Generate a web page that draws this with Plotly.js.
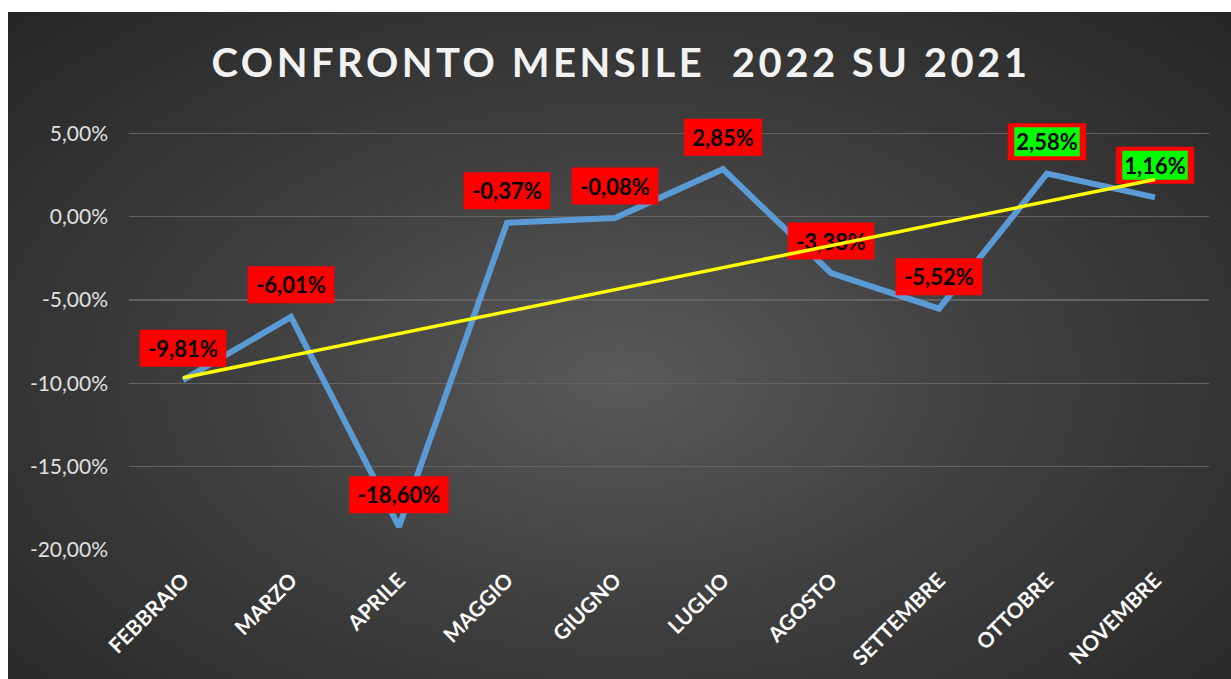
<!DOCTYPE html>
<html><head><meta charset="utf-8">
<script src="https://cdn.plot.ly/plotly-3.0.1.min.js"></script>
<style>
html,body{margin:0;padding:0;background:#fff;width:1231px;height:679px;overflow:hidden}
#bg{position:absolute;left:8px;top:12px;width:1223px;height:667px;background:radial-gradient(ellipse farthest-corner at 50% 55%, #5a5a5a 0%, #3f3f3f 45%, #262626 100%)}
#chart{position:absolute;left:0;top:0;width:1231px;height:679px}
.gtitle{letter-spacing:3.5px}
</style></head><body>
<div id="bg"></div><div id="chart"></div>
<script>
const months = ['FEBBRAIO','MARZO','APRILE','MAGGIO','GIUGNO','LUGLIO','AGOSTO','SETTEMBRE','OTTOBRE','NOVEMBRE'];
const changes = [-9.81,-6.01,-18.60,-0.37,-0.08,2.85,-3.38,-5.52,2.58,1.16];
const highlighted = ['OTTOBRE','NOVEMBRE'];
const yTickVals = [-20,-15,-10,-5,0,5];
const yTickText = ['-20,00%','-15,00%','-10,00%','-5,00%','0,00%','5,00%'];
const chartTitle = 'CONFRONTO MENSILE \u00a02022 SU 2021';

const W = 1231, H = 679;
const margin = {l:129, r:22, t:100, b:129};
const n = changes.length;
const xRange = [-0.5, n-0.5];
const yRange = [-20, 7];
const xPx = (W - margin.l - margin.r) / (xRange[1]-xRange[0]);
const yPx = (H - margin.t - margin.b) / (yRange[1]-yRange[0]);

const fmt = v => v.toFixed(2).replace('.', ',') + '%';
const labelFont = {family:'Lato, sans-serif', size:22, color:'#000000', weight:'bold'};
const ctx = document.createElement('canvas').getContext('2d');
ctx.font = 'bold 22px Lato';
const OFF = 32;

const shapes = [];
changes.forEach((v,i)=>{
  const txt = fmt(v);
  const w = ctx.measureText(txt).width;
  const hi = highlighted.includes(months[i]);
  const boxW = w + 17;
  const cy = v + OFF/yPx;
  const base = {type:'rect', layer:'above', xref:'x', yref:'y', line:{width:0}};
  const lbl = {text:txt, font:labelFont, textposition:'middle center', padding:0};
  shapes.push(Object.assign({}, base, {x0:i-boxW/2/xPx, x1:i+boxW/2/xPx, y0:cy-18.5/yPx, y1:cy+18.5/yPx, fillcolor:'#ff0000'}, hi ? {} : {label:lbl}));
  if(hi){
    const gw = w + 4;
    shapes.push(Object.assign({}, base, {x0:i-gw/2/xPx, x1:i+gw/2/xPx, y0:cy-14.5/yPx, y1:cy+14.5/yPx, fillcolor:'#00ff00', label:lbl}));
  }
});

// linear trend (least squares) from the series
const mx = (n-1)/2;
const my = changes.reduce((a,b)=>a+b,0)/n;
let sxy=0, sxx=0;
changes.forEach((v,i)=>{sxy+=(i-mx)*(v-my); sxx+=(i-mx)*(i-mx);});
const slope = sxy/sxx, icpt = my - slope*mx;
shapes.push({type:'line', layer:'above', xref:'x', yref:'y', x0:0, y0:icpt, x1:n-1, y1:icpt+slope*(n-1), line:{color:'#ffff00', width:3.5}});

const trace = {type:'scatter', mode:'lines', x:months, y:changes, line:{color:'#5b9bd5', width:6}, hoverinfo:'skip'};

const layout = {
  width:W, height:H,
  paper_bgcolor:'rgba(0,0,0,0)', plot_bgcolor:'rgba(0,0,0,0)',
  margin:margin,
  showlegend:false,
  title:{text:chartTitle, font:{family:'Lato, sans-serif', size:40, color:'#f2f2f2', weight:'bold'}, xref:'container', yref:'container', x:621/W, xanchor:'center', y:1-63/H, yanchor:'middle'},
  xaxis:{type:'category', range:xRange, showgrid:false, zeroline:false, showline:false, ticks:'', tickangle:-45, ticklabelstandoff:13,
    tickfont:{family:'Lato, sans-serif', size:21, color:'#ffffff', weight:'bold'}},
  yaxis:{range:yRange, tickvals:yTickVals, ticktext:yTickText, showgrid:true, gridcolor:'#636363', gridwidth:1.5, zeroline:false, showline:false, ticks:'', ticklabelstandoff:20,
    tickfont:{family:'Lato, sans-serif', size:21, color:'#e0e0e0'}},
  shapes:shapes
};
Plotly.newPlot('chart', [trace], layout, {staticPlot:true, displayModeBar:false});
</script>
</body></html>
